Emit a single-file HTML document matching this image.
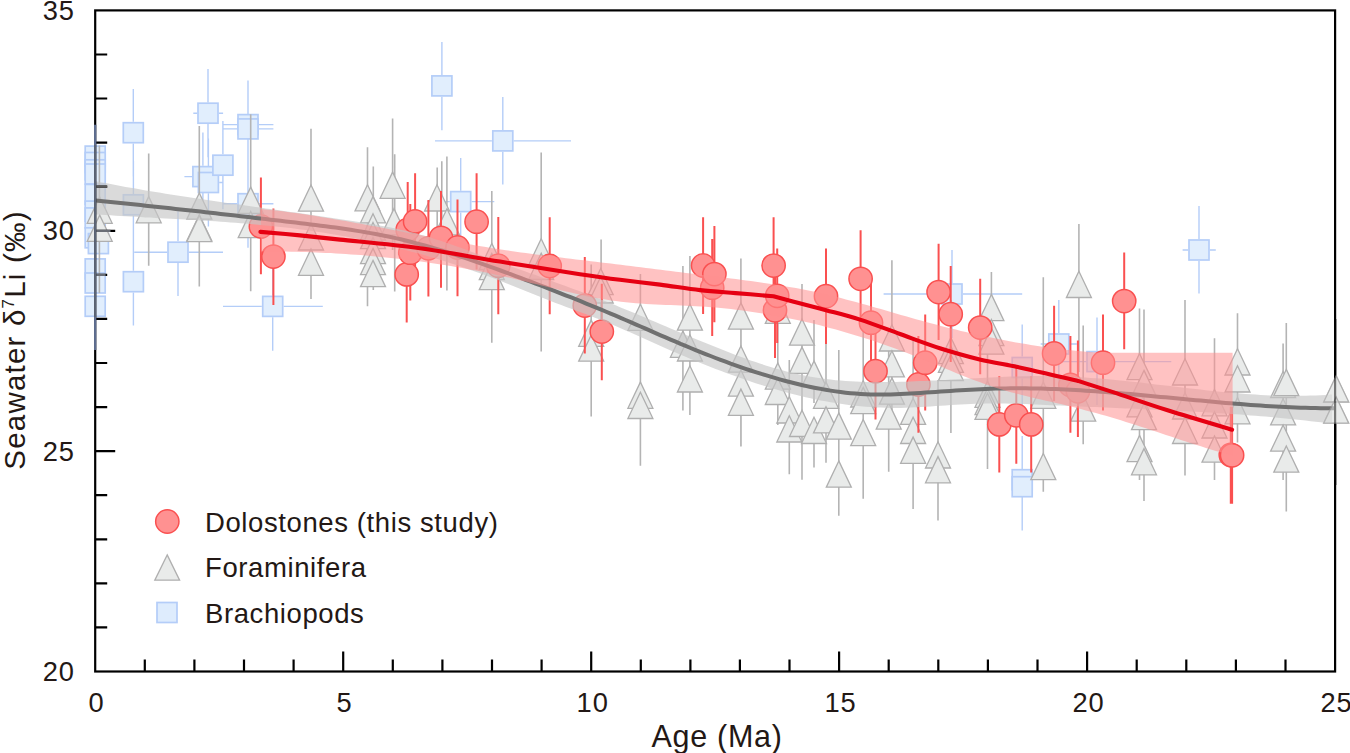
<!DOCTYPE html>
<html><head><meta charset="utf-8"><style>
html,body{margin:0;padding:0;background:#fff;}
svg{display:block;}
</style></head><body>
<svg width="1350" height="753" viewBox="0 0 1350 753">
<rect width="1350" height="753" fill="#fff"/>
<path d="M133.3 88.9V121.8M133.3 143.5V176.5M133.4 160.8V194.0M133.4 215.7V248.8M133.4 237.8V270.8M133.4 292.6V325.6M178 211.2V241.3M178 263.1V296.1M134.3 252.2H167.2M188.8 252.2H223M208 69.1V102.4M208 124.0V157.3M193.3 113.2H197.2M218.8 113.2H223.1M248 80.4V113.8M248 135.4V168.6M223 124.6H237.2M258.9 124.6H273.4M248 84.9V118.1M248 139.8V172.9M223 128.9H237.2M258.9 128.9H273.4M222.9 121.1V154.3M222.9 176.0V209.3M202.9 132.4V165.8M202.9 187.4V220.6M184.4 176.6H192.1M213.8 176.6H213M208.4 138.5V171.7M208.4 193.3V226.5M196 182.5H197.6M219.2 182.5H223.5M248 159.7V192.8M248 214.5V247.7M223 203.7H237.2M258.9 203.7H273.4M272.7 262.1V295.5M272.7 317.2V350.7M223 306.4H261.8M283.6 306.4H322.8M441.9 42.1V75.1M441.9 96.8V130.3M502.8 96.9V130.1M502.8 151.8V184.6M435 140.9H491.9M513.6 140.9H571M460.7 158V190.8M460.7 212.4V245.2M427.4 201.6H449.8M471.6 201.6H494.3M952 250.1V283.1M952 304.9V338M883.6 294H941.1M962.9 294H1022.2M1058.8 300V333.1M1058.8 354.9V388M1040.7 344H1048.0M1069.6 344H1076.8M1022.2 324.4V356.6M1022.2 378.4V411M1097 317.6V350.8M1097 372.5V405.1M1060 361.6H1086.2M1107.8 361.6H1171.3M1199 206.1V239.2M1199 260.9V293.6M1182.6 250H1188.2M1209.8 250H1215.8M1022.2 436.1V468.8M1022.2 490.6V523.6M1022.2 443.1V475.8M1022.2 497.6V530.6" stroke="#b4cdf8" stroke-width="1.4" fill="none"/>
<g fill="#e1eefd" stroke="#b4cdf8" stroke-width="1.7"><rect x="85.2" y="146.1" width="20" height="20"/><rect x="85.2" y="152.5" width="20" height="20"/><rect x="85.2" y="159.8" width="20" height="20"/><rect x="85.2" y="164.0" width="20" height="20"/><rect x="85.2" y="184.4" width="20" height="20"/><rect x="85.2" y="201.1" width="20" height="20"/><rect x="85.2" y="207.9" width="20" height="20"/><rect x="85.2" y="227.8" width="20" height="20"/><rect x="85.2" y="258.9" width="20" height="20"/><rect x="85.2" y="273.0" width="20" height="20"/><rect x="85.2" y="296.3" width="20" height="20"/><rect x="88.4" y="233.6" width="20" height="20"/><rect x="123.3" y="122.7" width="20" height="20"/><rect x="123.4" y="194.8" width="20" height="20"/><rect x="123.4" y="271.7" width="20" height="20"/><rect x="168.0" y="242.2" width="20" height="20"/><rect x="192.9" y="166.6" width="20" height="20"/><rect x="198.0" y="103.2" width="20" height="20"/><rect x="198.4" y="172.5" width="20" height="20"/><rect x="212.9" y="155.2" width="20" height="20"/><rect x="238.0" y="114.6" width="20" height="20"/><rect x="238.0" y="118.9" width="20" height="20"/><rect x="238.0" y="193.7" width="20" height="20"/><rect x="262.7" y="296.4" width="20" height="20"/><rect x="431.9" y="75.9" width="20" height="20"/><rect x="450.7" y="191.6" width="20" height="20"/><rect x="492.8" y="130.9" width="20" height="20"/><rect x="942.0" y="284.0" width="20" height="20"/><rect x="1012.2" y="357.5" width="20" height="20"/><rect x="1012.2" y="469.7" width="20" height="20"/><rect x="1012.2" y="476.7" width="20" height="20"/><rect x="1048.8" y="334.0" width="20" height="20"/><rect x="1087.0" y="351.6" width="20" height="20"/><rect x="1189.0" y="240.0" width="20" height="20"/></g>
<path d="M99.4 145.6V293M148.7 153.6V265.7M199.3 126V286.6M250.7 114.3V291.2M311 128.8V299.1M367.5 147.2V306.3M373.3 166.5V290M392.6 118.5V250M394.7 154.2V291.4M437.2 167.5V240M441.8 161.3V250M446.9 156.4V290.4M491.8 190.9V342.8M541.2 152.6V351.6M591.2 264.5V416.6M601.1 239.5V330M640.4 274.1V465.8M682.9 266V410.4M689.9 256V414.9M740.9 258.6V446.5M741 300V446.3M777.8 290V425M789.3 360V474.3M802 284.1V479.7M814 320V403M814 443V467.5M826 330V462.7M838.8 350V515.8M863.2 320V498.8M888.7 330V471.8M891.9 260.3V420M913.1 340V509M938 380V520.6M950.9 300V432.9M987.5 350V469M991.4 272V350M1043.3 277.3V491.8M1078.9 224V372M1083.2 325.5V444.2M1139.5 308.5V480M1144 309.6V500.9M1185 300V475.4M1214.5 338.2V480M1237.5 313.2V442.5M1283.1 343.5V480M1286.3 322.9V511.5M1336.2 319.1V485" stroke="#b4b4b4" stroke-width="1.6" fill="none"/>
<g fill="#e9ebea" stroke="#afafaf" stroke-width="1.3"><path d="M99.7 197.1L112.2 223.3H87.2Z"/><path d="M99.7 215.1L112.2 241.3H87.2Z"/><path d="M148.7 196.6L161.2 222.8H136.2Z"/><path d="M199.3 193.0L211.8 219.2H186.8Z"/><path d="M199.3 214.7L211.8 240.9H186.8Z"/><path d="M199.3 215.4L211.8 241.6H186.8Z"/><path d="M250.7 187.1L263.2 213.3H238.2Z"/><path d="M250.7 211.5L263.2 237.7H238.2Z"/><path d="M311 185.0L323.5 211.2H298.5Z"/><path d="M311 223.8L323.5 250.0H298.5Z"/><path d="M311 249.1L323.5 275.3H298.5Z"/><path d="M367.5 184.7L380.0 210.9H355.0Z"/><path d="M373 196.6L385.5 222.8H360.5Z"/><path d="M373 213.8L385.5 240.0H360.5Z"/><path d="M373 222.5L385.5 248.7H360.5Z"/><path d="M373 237.5L385.5 263.7H360.5Z"/><path d="M373 248.4L385.5 274.6H360.5Z"/><path d="M373 260.4L385.5 286.6H360.5Z"/><path d="M392.6 172.1L405.1 198.3H380.1Z"/><path d="M394 208.6L406.5 234.8H381.5Z"/><path d="M437 184.8L449.5 211.0H424.5Z"/><path d="M447 208.7L459.5 234.9H434.5Z"/><path d="M491.8 243.4L504.3 269.6H479.3Z"/><path d="M491.8 253.5L504.3 279.7H479.3Z"/><path d="M491.8 263.4L504.3 289.6H479.3Z"/><path d="M541.2 238.8L553.7 265.0H528.7Z"/><path d="M541.2 253.3L553.7 279.5H528.7Z"/><path d="M591.2 320.1L603.7 346.3H578.7Z"/><path d="M591.2 335.0L603.7 361.2H578.7Z"/><path d="M600.7 268.5L613.2 294.7H588.2Z"/><path d="M600.7 276.8L613.2 303.0H588.2Z"/><path d="M640.4 304.2L652.9 330.4H627.9Z"/><path d="M640.4 382.1L652.9 408.3H627.9Z"/><path d="M640.4 392.3L652.9 418.5H627.9Z"/><path d="M682.9 331.1L695.4 357.3H670.4Z"/><path d="M689.9 304.0L702.4 330.2H677.4Z"/><path d="M689.9 334.8L702.4 361.0H677.4Z"/><path d="M689.9 365.8L702.4 392.0H677.4Z"/><path d="M740.9 302.9L753.4 329.1H728.4Z"/><path d="M740.9 346.0L753.4 372.2H728.4Z"/><path d="M740.9 370.0L753.4 396.2H728.4Z"/><path d="M740.9 389.1L753.4 415.3H728.4Z"/><path d="M777.8 297.2L790.3 323.4H765.3Z"/><path d="M777.8 363.0L790.3 389.2H765.3Z"/><path d="M777.8 378.3L790.3 404.5H765.3Z"/><path d="M789.3 396.8L801.8 423.0H776.8Z"/><path d="M789.3 415.8L801.8 442.0H776.8Z"/><path d="M802 319.0L814.5 345.2H789.5Z"/><path d="M802 347.1L814.5 373.3H789.5Z"/><path d="M802 410.3L814.5 436.5H789.5Z"/><path d="M814 360.9L826.5 387.1H801.5Z"/><path d="M814 417.3L826.5 443.5H801.5Z"/><path d="M826 382.1L838.5 408.3H813.5Z"/><path d="M826 406.7L838.5 432.9H813.5Z"/><path d="M838.8 412.9L851.3 439.1H826.3Z"/><path d="M838.8 460.9L851.3 487.1H826.3Z"/><path d="M863.2 380.8L875.7 407.0H850.7Z"/><path d="M863.2 387.4L875.7 413.6H850.7Z"/><path d="M863.2 419.5L875.7 445.7H850.7Z"/><path d="M888.7 402.9L901.2 429.1H876.2Z"/><path d="M891.9 324.8L904.4 351.0H879.4Z"/><path d="M891.9 350.7L904.4 376.9H879.4Z"/><path d="M891.9 377.9L904.4 404.1H879.4Z"/><path d="M913.1 398.2L925.6 424.4H900.6Z"/><path d="M913.1 417.3L925.6 443.5H900.6Z"/><path d="M913.1 437.1L925.6 463.3H900.6Z"/><path d="M938 441.8L950.5 468.0H925.5Z"/><path d="M938 456.6L950.5 482.8H925.5Z"/><path d="M950.9 337.5L963.4 363.7H938.4Z"/><path d="M950.9 346.2L963.4 372.4H938.4Z"/><path d="M950.9 354.5L963.4 380.7H938.4Z"/><path d="M987.5 381.1L1000.0 407.3H975.0Z"/><path d="M987.5 388.5L1000.0 414.7H975.0Z"/><path d="M987.5 393.2L1000.0 419.4H975.0Z"/><path d="M991.4 294.4L1003.9 320.6H978.9Z"/><path d="M991.4 319.5L1003.9 345.7H978.9Z"/><path d="M991.4 328.0L1003.9 354.2H978.9Z"/><path d="M1043.3 382.1L1055.8 408.3H1030.8Z"/><path d="M1043.3 453.5L1055.8 479.7H1030.8Z"/><path d="M1078.9 271.3L1091.4 297.5H1066.4Z"/><path d="M1083.2 395.0L1095.7 421.2H1070.7Z"/><path d="M1139.5 353.5L1152.0 379.7H1127.0Z"/><path d="M1139.5 390.6L1152.0 416.8H1127.0Z"/><path d="M1139.5 435.4L1152.0 461.6H1127.0Z"/><path d="M1144 370.4L1156.5 396.6H1131.5Z"/><path d="M1144 403.4L1156.5 429.6H1131.5Z"/><path d="M1144 448.6L1156.5 474.8H1131.5Z"/><path d="M1185 358.8L1197.5 385.0H1172.5Z"/><path d="M1185 392.8L1197.5 419.0H1172.5Z"/><path d="M1185 417.3L1197.5 443.5H1172.5Z"/><path d="M1214.5 389.6L1227.0 415.8H1202.0Z"/><path d="M1214.5 411.8L1227.0 438.0H1202.0Z"/><path d="M1214.5 436.0L1227.0 462.2H1202.0Z"/><path d="M1237.5 348.8L1250.0 375.0H1225.0Z"/><path d="M1237.5 365.8L1250.0 392.0H1225.0Z"/><path d="M1237.5 397.6L1250.0 423.8H1225.0Z"/><path d="M1283.1 371.5L1295.6 397.7H1270.6Z"/><path d="M1283.1 398.7L1295.6 424.9H1270.6Z"/><path d="M1283.1 425.0L1295.6 451.2H1270.6Z"/><path d="M1286.3 369.4L1298.8 395.6H1273.8Z"/><path d="M1286.3 446.0L1298.8 472.2H1273.8Z"/><path d="M1336.2 375.8L1348.7 402.0H1323.7Z"/><path d="M1336.2 397.0L1348.7 423.2H1323.7Z"/></g>
<path d="M260.9 177.6V274.2M273.4 208.4V305M407.7 182V277.6M415.1 173.3V269.5M410.3 203.9V300.5M406.7 226.8V322.6M428.4 199.9V296.5M441 190.9V287.7M457.5 199.4V296.3M476.6 173.2V269.6M498.3 216.9V314.3M549.7 217.2V314.3M584.8 257.1V353.5M601.8 283.7V380.3M703.1 217.2V314M712.2 239V336.1M714.4 226.1V322.3M773.6 217.2V314M775 262V358M777.2 248.4V343M826 248.4V344M860.6 230.3V327M871 284.1V371M875.5 323V419.4M925.2 314.4V410.4M918.4 336V432.8M938.6 243.7V340M950.7 266V362M980.2 278.8V374.3M1054.1 305.7V401M1103 314.4V410.4M1124.2 252.6V349.3M1016.3 367V463.7M999.3 376V472.6M1031.2 376V472.6M1070.4 336.1V432.8M1077.9 340.4V437M1230.8 406.8V503.7M1232.1 406.8V503.7" stroke="#fa5050" stroke-width="2" fill="none"/>
<g fill="#ff9191" stroke="#fa5050" stroke-width="1.5"><circle cx="260.9" cy="226.5" r="11.65"/><circle cx="273.4" cy="256.6" r="11.65"/><circle cx="406.7" cy="274.4" r="11.65"/><circle cx="407.7" cy="229.8" r="11.65"/><circle cx="410.3" cy="252.7" r="11.65"/><circle cx="415.1" cy="221.4" r="11.65"/><circle cx="428.4" cy="248.3" r="11.65"/><circle cx="441" cy="237.8" r="11.65"/><circle cx="457.5" cy="247.5" r="11.65"/><circle cx="476.6" cy="221.7" r="11.65"/><circle cx="498.3" cy="265.7" r="11.65"/><circle cx="549.7" cy="266" r="11.65"/><circle cx="584.8" cy="305.6" r="11.65"/><circle cx="601.8" cy="331.6" r="11.65"/><circle cx="703.1" cy="265.5" r="11.65"/><circle cx="712.2" cy="287.7" r="11.65"/><circle cx="714.4" cy="274.1" r="11.65"/><circle cx="773.6" cy="265.6" r="11.65"/><circle cx="775" cy="310.3" r="11.65"/><circle cx="777.2" cy="295.8" r="11.65"/><circle cx="826" cy="296.2" r="11.65"/><circle cx="860.6" cy="278.8" r="11.65"/><circle cx="871" cy="322.7" r="11.65"/><circle cx="875.5" cy="371.2" r="11.65"/><circle cx="918.4" cy="384.5" r="11.65"/><circle cx="925.2" cy="362.7" r="11.65"/><circle cx="938.6" cy="292.1" r="11.65"/><circle cx="950.7" cy="314.2" r="11.65"/><circle cx="980.2" cy="327.6" r="11.65"/><circle cx="999.3" cy="424.4" r="11.65"/><circle cx="1016.3" cy="415.3" r="11.65"/><circle cx="1031.2" cy="424.4" r="11.65"/><circle cx="1054.1" cy="353.5" r="11.65"/><circle cx="1070.4" cy="385" r="11.65"/><circle cx="1077.9" cy="391.3" r="11.65"/><circle cx="1103" cy="362.7" r="11.65"/><circle cx="1124.2" cy="301.1" r="11.65"/><circle cx="1230.8" cy="455" r="11.65"/><circle cx="1232.1" cy="455.3" r="11.65"/></g>
<path d="M95.6 181.2 L100.6 182.2 L105.6 183.1 L110.6 184.1 L115.6 185.0 L120.6 185.9 L125.6 186.9 L130.6 187.8 L135.6 188.6 L140.6 189.5 L145.6 190.4 L150.6 191.2 L155.6 192.0 L160.6 192.8 L165.6 193.7 L170.6 194.5 L175.6 195.2 L180.6 196.0 L185.6 196.8 L190.6 197.6 L195.6 198.3 L200.6 199.1 L205.6 199.8 L210.6 200.5 L215.6 201.3 L220.6 202.0 L225.6 202.7 L230.6 203.4 L235.6 204.1 L240.6 204.8 L245.6 205.5 L250.6 206.2 L255.6 206.9 L260.6 207.6 L265.6 208.4 L270.6 209.1 L275.6 209.8 L280.6 210.5 L285.6 211.2 L290.6 211.9 L295.6 212.6 L300.6 213.3 L305.6 214.0 L310.6 214.7 L315.6 215.5 L320.6 216.2 L325.6 216.9 L330.6 217.7 L335.6 218.4 L340.6 219.2 L345.6 219.9 L350.6 220.7 L355.6 221.5 L360.6 222.3 L365.6 223.1 L370.6 223.9 L375.6 224.8 L380.6 225.7 L385.6 226.6 L390.6 227.6 L395.6 228.6 L400.6 229.7 L405.6 230.8 L410.6 232.0 L415.6 233.3 L420.6 234.7 L425.6 236.1 L430.6 237.6 L435.6 239.2 L440.6 240.8 L445.6 242.5 L450.6 244.2 L455.6 246.0 L460.6 247.8 L465.6 249.6 L470.6 251.5 L475.6 253.3 L480.6 255.2 L485.6 257.0 L490.6 258.9 L495.6 260.7 L500.6 262.5 L505.6 264.4 L510.6 266.2 L515.6 268.0 L520.6 269.8 L525.6 271.6 L530.6 273.4 L535.6 275.1 L540.6 276.9 L545.6 278.7 L550.6 280.5 L555.6 282.4 L560.6 284.2 L565.6 286.0 L570.6 287.9 L575.6 289.7 L580.6 291.6 L585.6 293.5 L590.6 295.4 L595.6 297.4 L600.6 299.3 L605.6 301.3 L610.6 303.3 L615.6 305.3 L620.6 307.4 L625.6 309.4 L630.6 311.5 L635.6 313.6 L640.6 315.7 L645.6 317.8 L650.6 319.9 L655.6 322.1 L660.6 324.2 L665.6 326.3 L670.6 328.4 L675.6 330.5 L680.6 332.7 L685.6 334.8 L690.6 336.9 L695.6 339.0 L700.6 341.0 L705.6 343.1 L710.6 345.1 L715.6 347.1 L720.6 349.1 L725.6 351.1 L730.6 353.0 L735.6 354.9 L740.6 356.8 L745.6 358.6 L750.6 360.4 L755.6 362.1 L760.6 363.7 L765.6 365.4 L770.6 366.9 L775.6 368.4 L780.6 369.8 L785.6 371.2 L790.6 372.4 L795.6 373.6 L800.6 374.7 L805.6 375.8 L810.6 376.7 L815.6 377.6 L820.6 378.3 L825.6 379.0 L830.6 379.6 L835.6 380.2 L840.6 380.6 L845.6 381.0 L850.6 381.3 L855.6 381.6 L860.6 381.8 L865.6 382.0 L870.6 382.1 L875.6 382.1 L880.6 382.1 L885.6 382.1 L890.6 382.0 L895.6 381.9 L900.6 381.8 L905.6 381.7 L910.6 381.5 L915.6 381.3 L920.6 381.1 L925.6 380.9 L930.6 380.6 L935.6 380.4 L940.6 380.1 L945.6 379.9 L950.6 379.6 L955.6 379.3 L960.6 379.0 L965.6 378.8 L970.6 378.5 L975.6 378.2 L980.6 377.9 L985.6 377.7 L990.6 377.4 L995.6 377.2 L1000.6 377.0 L1005.6 376.8 L1010.6 376.6 L1015.6 376.5 L1020.6 376.3 L1025.6 376.2 L1030.6 376.1 L1035.6 376.1 L1040.6 376.0 L1045.6 376.1 L1050.6 376.1 L1055.6 376.2 L1060.6 376.3 L1065.6 376.5 L1070.6 376.7 L1075.6 376.9 L1080.6 377.2 L1085.6 377.5 L1090.6 377.9 L1095.6 378.2 L1100.6 378.6 L1105.6 379.1 L1110.6 379.5 L1115.6 380.0 L1120.6 380.5 L1125.6 381.0 L1130.6 381.5 L1135.6 382.1 L1140.6 382.6 L1145.6 383.2 L1150.6 383.8 L1155.6 384.4 L1160.6 384.9 L1165.6 385.5 L1170.6 386.1 L1175.6 386.7 L1180.6 387.3 L1185.6 387.9 L1190.6 388.5 L1195.6 389.1 L1200.6 389.6 L1205.6 390.2 L1210.6 390.7 L1215.6 391.2 L1220.6 391.7 L1225.6 392.2 L1230.6 392.7 L1235.6 393.1 L1240.6 393.5 L1245.6 393.9 L1250.6 394.3 L1255.6 394.6 L1260.6 394.9 L1265.6 395.2 L1270.6 395.4 L1275.6 395.6 L1280.6 395.7 L1285.6 395.8 L1290.6 395.9 L1295.6 395.9 L1300.6 395.8 L1305.6 395.8 L1310.6 395.6 L1315.6 395.4 L1320.6 395.2 L1325.6 394.9 L1330.6 394.5 L1332.0 394.4 L1332.0 423.8 L1330.6 423.6 L1325.6 423.0 L1320.6 422.3 L1315.6 421.7 L1310.6 421.2 L1305.6 420.6 L1300.6 420.0 L1295.6 419.5 L1290.6 419.0 L1285.6 418.5 L1280.6 418.0 L1275.6 417.5 L1270.6 417.1 L1265.6 416.6 L1260.6 416.2 L1255.6 415.8 L1250.6 415.4 L1245.6 415.0 L1240.6 414.6 L1235.6 414.3 L1230.6 413.9 L1225.6 413.6 L1220.6 413.2 L1215.6 412.9 L1210.6 412.6 L1205.6 412.3 L1200.6 412.0 L1195.6 411.7 L1190.6 411.5 L1185.6 411.2 L1180.6 410.9 L1175.6 410.7 L1170.6 410.4 L1165.6 410.2 L1160.6 409.9 L1155.6 409.7 L1150.6 409.5 L1145.6 409.2 L1140.6 409.0 L1135.6 408.8 L1130.6 408.6 L1125.6 408.4 L1120.6 408.2 L1115.6 407.9 L1110.6 407.7 L1105.6 407.5 L1100.6 407.3 L1095.6 407.1 L1090.6 406.9 L1085.6 406.7 L1080.6 406.5 L1075.6 406.3 L1070.6 406.1 L1065.6 405.8 L1060.6 405.6 L1055.6 405.4 L1050.6 405.2 L1045.6 404.9 L1040.6 404.7 L1035.6 404.5 L1030.6 404.3 L1025.6 404.1 L1020.6 404.0 L1015.6 403.8 L1010.6 403.7 L1005.6 403.6 L1000.6 403.6 L995.6 403.5 L990.6 403.5 L985.6 403.6 L980.6 403.7 L975.6 403.8 L970.6 404.0 L965.6 404.2 L960.6 404.5 L955.6 404.8 L950.6 405.1 L945.6 405.5 L940.6 405.8 L935.6 406.1 L930.6 406.5 L925.6 406.8 L920.6 407.1 L915.6 407.3 L910.6 407.6 L905.6 407.7 L900.6 407.9 L895.6 407.9 L890.6 407.9 L885.6 407.8 L880.6 407.6 L875.6 407.4 L870.6 407.1 L865.6 406.7 L860.6 406.3 L855.6 405.7 L850.6 405.2 L845.6 404.5 L840.6 403.8 L835.6 403.0 L830.6 402.2 L825.6 401.3 L820.6 400.4 L815.6 399.4 L810.6 398.3 L805.6 397.2 L800.6 396.0 L795.6 394.8 L790.6 393.5 L785.6 392.2 L780.6 390.8 L775.6 389.3 L770.6 387.9 L765.6 386.3 L760.6 384.8 L755.6 383.2 L750.6 381.5 L745.6 379.8 L740.6 378.1 L735.6 376.3 L730.6 374.5 L725.6 372.7 L720.6 370.8 L715.6 368.9 L710.6 366.9 L705.6 365.0 L700.6 363.0 L695.6 360.9 L690.6 358.9 L685.6 356.8 L680.6 354.7 L675.6 352.5 L670.6 350.4 L665.6 348.2 L660.6 346.0 L655.6 343.8 L650.6 341.5 L645.6 339.3 L640.6 337.0 L635.6 334.8 L630.6 332.6 L625.6 330.4 L620.6 328.2 L615.6 326.0 L610.6 323.9 L605.6 321.8 L600.6 319.8 L595.6 317.9 L590.6 315.9 L585.6 314.1 L580.6 312.2 L575.6 310.4 L570.6 308.5 L565.6 306.7 L560.6 304.8 L555.6 302.9 L550.6 301.0 L545.6 299.0 L540.6 297.0 L535.6 295.0 L530.6 293.0 L525.6 291.0 L520.6 289.0 L515.6 287.0 L510.6 285.0 L505.6 283.0 L500.6 281.1 L495.6 279.1 L490.6 277.2 L485.6 275.3 L480.6 273.5 L475.6 271.7 L470.6 269.9 L465.6 268.2 L460.6 266.5 L455.6 264.8 L450.6 263.2 L445.6 261.6 L440.6 260.0 L435.6 258.5 L430.6 257.0 L425.6 255.5 L420.6 254.1 L415.6 252.7 L410.6 251.4 L405.6 250.0 L400.6 248.7 L395.6 247.5 L390.6 246.3 L385.6 245.1 L380.6 243.9 L375.6 242.8 L370.6 241.7 L365.6 240.6 L360.6 239.5 L355.6 238.5 L350.6 237.6 L345.6 236.6 L340.6 235.7 L335.6 234.8 L330.6 234.0 L325.6 233.1 L320.6 232.3 L315.6 231.6 L310.6 230.8 L305.6 230.1 L300.6 229.4 L295.6 228.8 L290.6 228.1 L285.6 227.5 L280.6 227.0 L275.6 226.4 L270.6 225.9 L265.6 225.4 L260.6 224.9 L255.6 224.4 L250.6 224.0 L245.6 223.6 L240.6 223.2 L235.6 222.8 L230.6 222.4 L225.6 222.0 L220.6 221.7 L215.6 221.3 L210.6 221.0 L205.6 220.7 L200.6 220.4 L195.6 220.1 L190.6 219.8 L185.6 219.5 L180.6 219.2 L175.6 219.0 L170.6 218.7 L165.6 218.4 L160.6 218.2 L155.6 217.9 L150.6 217.6 L145.6 217.4 L140.6 217.1 L135.6 216.8 L130.6 216.5 L125.6 216.2 L120.6 216.0 L115.6 215.7 L110.6 215.3 L105.6 215.0 L100.6 214.7 L95.6 214.4 Z" fill="rgb(198,198,198)" fill-opacity="0.65"/>
<path d="M95.6 200.6 L100.6 201.1 L105.6 201.6 L110.6 202.1 L115.6 202.6 L120.6 203.1 L125.6 203.6 L130.6 204.1 L135.6 204.6 L140.6 205.1 L145.6 205.7 L150.6 206.2 L155.6 206.7 L160.6 207.3 L165.6 207.8 L170.6 208.3 L175.6 208.9 L180.6 209.4 L185.6 210.0 L190.6 210.5 L195.6 211.1 L200.6 211.6 L205.6 212.2 L210.6 212.8 L215.6 213.3 L220.6 213.9 L225.6 214.5 L230.6 215.0 L235.6 215.6 L240.6 216.2 L245.6 216.7 L250.6 217.3 L255.6 217.9 L260.6 218.5 L265.6 219.1 L270.6 219.7 L275.6 220.3 L280.6 220.8 L285.6 221.4 L290.6 222.0 L295.6 222.6 L300.6 223.2 L305.6 223.8 L310.6 224.4 L315.6 225.0 L320.6 225.7 L325.6 226.3 L330.6 227.0 L335.6 227.6 L340.6 228.3 L345.6 229.0 L350.6 229.8 L355.6 230.6 L360.6 231.4 L365.6 232.2 L370.6 233.1 L375.6 234.0 L380.6 235.0 L385.6 236.0 L390.6 237.0 L395.6 238.1 L400.6 239.3 L405.6 240.5 L410.6 241.8 L415.6 243.1 L420.6 244.4 L425.6 245.8 L430.6 247.2 L435.6 248.7 L440.6 250.2 L445.6 251.7 L450.6 253.3 L455.6 254.9 L460.6 256.6 L465.6 258.2 L470.6 259.9 L475.6 261.6 L480.6 263.4 L485.6 265.1 L490.6 266.9 L495.6 268.7 L500.6 270.5 L505.6 272.4 L510.6 274.2 L515.6 276.1 L520.6 277.9 L525.6 279.8 L530.6 281.7 L535.6 283.6 L540.6 285.5 L545.6 287.4 L550.6 289.4 L555.6 291.3 L560.6 293.3 L565.6 295.3 L570.6 297.2 L575.6 299.2 L580.6 301.2 L585.6 303.3 L590.6 305.3 L595.6 307.4 L600.6 309.4 L605.6 311.5 L610.6 313.6 L615.6 315.7 L620.6 317.9 L625.6 320.0 L630.6 322.2 L635.6 324.4 L640.6 326.5 L645.6 328.7 L650.6 330.9 L655.6 333.1 L660.6 335.3 L665.6 337.4 L670.6 339.6 L675.6 341.7 L680.6 343.9 L685.6 345.9 L690.6 348.0 L695.6 350.1 L700.6 352.1 L705.6 354.1 L710.6 356.0 L715.6 358.0 L720.6 359.9 L725.6 361.7 L730.6 363.6 L735.6 365.3 L740.6 367.1 L745.6 368.8 L750.6 370.5 L755.6 372.1 L760.6 373.7 L765.6 375.2 L770.6 376.7 L775.6 378.2 L780.6 379.6 L785.6 381.0 L790.6 382.3 L795.6 383.5 L800.6 384.7 L805.6 385.9 L810.6 387.0 L815.6 388.0 L820.6 388.9 L825.6 389.8 L830.6 390.6 L835.6 391.4 L840.6 392.1 L845.6 392.7 L850.6 393.2 L855.6 393.6 L860.6 393.9 L865.6 394.2 L870.6 394.4 L875.6 394.5 L880.6 394.5 L885.6 394.5 L890.6 394.4 L895.6 394.2 L900.6 394.0 L905.6 393.8 L910.6 393.5 L915.6 393.2 L920.6 392.9 L925.6 392.6 L930.6 392.3 L935.6 391.9 L940.6 391.6 L945.6 391.2 L950.6 390.9 L955.6 390.6 L960.6 390.2 L965.6 390.0 L970.6 389.7 L975.6 389.4 L980.6 389.2 L985.6 389.0 L990.6 388.8 L995.6 388.6 L1000.6 388.5 L1005.6 388.4 L1010.6 388.3 L1015.6 388.3 L1020.6 388.3 L1025.6 388.3 L1030.6 388.4 L1035.6 388.5 L1040.6 388.6 L1045.6 388.7 L1050.6 388.9 L1055.6 389.1 L1060.6 389.3 L1065.6 389.5 L1070.6 389.8 L1075.6 390.1 L1080.6 390.3 L1085.6 390.7 L1090.6 391.0 L1095.6 391.3 L1100.6 391.7 L1105.6 392.1 L1110.6 392.5 L1115.6 392.9 L1120.6 393.3 L1125.6 393.7 L1130.6 394.1 L1135.6 394.6 L1140.6 395.0 L1145.6 395.5 L1150.6 395.9 L1155.6 396.4 L1160.6 396.9 L1165.6 397.3 L1170.6 397.8 L1175.6 398.3 L1180.6 398.8 L1185.6 399.2 L1190.6 399.7 L1195.6 400.2 L1200.6 400.6 L1205.6 401.1 L1210.6 401.6 L1215.6 402.0 L1220.6 402.5 L1225.6 402.9 L1230.6 403.3 L1235.6 403.7 L1240.6 404.1 L1245.6 404.5 L1250.6 404.9 L1255.6 405.2 L1260.6 405.6 L1265.6 405.9 L1270.6 406.2 L1275.6 406.5 L1280.6 406.8 L1285.6 407.0 L1290.6 407.3 L1295.6 407.5 L1300.6 407.7 L1305.6 407.8 L1310.6 408.0 L1315.6 408.1 L1320.6 408.2 L1325.6 408.2 L1330.6 408.2 L1334.5 408.2" fill="none" stroke="#707070" stroke-width="4" stroke-linejoin="round"/>
<path d="M260.9 208.9 L265.9 209.4 L270.9 209.9 L275.9 210.5 L280.9 211.1 L285.9 211.8 L290.9 212.4 L295.9 213.1 L300.9 213.8 L305.9 214.5 L310.9 215.3 L315.9 216.1 L320.9 216.9 L325.9 217.7 L330.9 218.5 L335.9 219.4 L340.9 220.2 L345.9 221.1 L350.9 222.0 L355.9 222.9 L360.9 223.8 L365.9 224.8 L370.9 225.7 L375.9 226.6 L380.9 227.6 L385.9 228.5 L390.9 229.5 L395.9 230.5 L400.9 231.4 L405.9 232.4 L410.9 233.4 L415.9 234.3 L420.9 235.3 L425.9 236.2 L430.9 237.2 L435.9 238.1 L440.9 239.1 L445.9 240.0 L450.9 240.9 L455.9 241.9 L460.9 242.8 L465.9 243.7 L470.9 244.5 L475.9 245.4 L480.9 246.3 L485.9 247.1 L490.9 247.9 L495.9 248.7 L500.9 249.5 L505.9 250.2 L510.9 251.0 L515.9 251.7 L520.9 252.4 L525.9 253.1 L530.9 253.8 L535.9 254.4 L540.9 255.1 L545.9 255.7 L550.9 256.3 L555.9 256.9 L560.9 257.6 L565.9 258.2 L570.9 258.8 L575.9 259.4 L580.9 260.0 L585.9 260.6 L590.9 261.2 L595.9 261.8 L600.9 262.4 L605.9 263.0 L610.9 263.6 L615.9 264.2 L620.9 264.8 L625.9 265.4 L630.9 266.0 L635.9 266.7 L640.9 267.3 L645.9 267.9 L650.9 268.5 L655.9 269.2 L660.9 269.8 L665.9 270.4 L670.9 271.0 L675.9 271.7 L680.9 272.3 L685.9 272.9 L690.9 273.5 L695.9 274.1 L700.9 274.8 L705.9 275.4 L710.9 276.0 L715.9 276.6 L720.9 277.2 L725.9 277.8 L730.9 278.4 L735.9 279.1 L740.9 279.7 L745.9 280.4 L750.9 281.1 L755.9 281.8 L760.9 282.5 L765.9 283.2 L770.9 283.9 L775.9 284.7 L780.9 285.5 L785.9 286.4 L790.9 287.2 L795.9 288.1 L800.9 289.1 L805.9 290.1 L810.9 291.1 L815.9 292.1 L820.9 293.2 L825.9 294.4 L830.9 295.6 L835.9 296.8 L840.9 298.1 L845.9 299.4 L850.9 300.7 L855.9 302.1 L860.9 303.4 L865.9 304.8 L870.9 306.2 L875.9 307.7 L880.9 309.1 L885.9 310.6 L890.9 312.0 L895.9 313.4 L900.9 314.9 L905.9 316.3 L910.9 317.7 L915.9 319.2 L920.9 320.5 L925.9 321.9 L930.9 323.3 L935.9 324.6 L940.9 325.9 L945.9 327.2 L950.9 328.4 L955.9 329.6 L960.9 330.9 L965.9 332.0 L970.9 333.2 L975.9 334.3 L980.9 335.4 L985.9 336.5 L990.9 337.6 L995.9 338.6 L1000.9 339.6 L1005.9 340.5 L1010.9 341.5 L1015.9 342.4 L1020.9 343.3 L1025.9 344.1 L1030.9 344.9 L1035.9 345.7 L1040.9 346.5 L1045.9 347.2 L1050.9 347.9 L1055.9 348.5 L1060.9 349.1 L1065.9 349.7 L1070.9 350.3 L1075.9 350.8 L1080.9 351.3 L1085.9 351.7 L1090.9 352.1 L1095.9 352.5 L1100.0 352.8 L1232.6 352.8 L1232.6 455.5 L1230.9 455.1 L1225.9 453.7 L1220.9 452.3 L1215.9 450.9 L1210.9 449.4 L1205.9 447.9 L1200.9 446.3 L1195.9 444.8 L1190.9 443.2 L1185.9 441.5 L1180.9 439.9 L1175.9 438.3 L1170.9 436.6 L1165.9 434.9 L1160.9 433.3 L1155.9 431.6 L1150.9 430.0 L1145.9 428.3 L1140.9 426.7 L1135.9 425.1 L1130.9 423.4 L1125.9 421.9 L1120.9 420.3 L1115.9 418.8 L1110.9 417.3 L1105.9 415.8 L1100.9 414.4 L1095.9 413.0 L1090.9 411.7 L1085.9 410.4 L1080.9 409.1 L1075.9 407.8 L1070.9 406.5 L1065.9 405.3 L1060.9 404.1 L1055.9 403.0 L1050.9 401.8 L1045.9 400.7 L1040.9 399.5 L1035.9 398.4 L1030.9 397.2 L1025.9 396.0 L1020.9 394.8 L1015.9 393.5 L1010.9 392.2 L1005.9 390.8 L1000.9 389.3 L995.9 387.8 L990.9 386.1 L985.9 384.4 L980.9 382.6 L975.9 380.8 L970.9 378.9 L965.9 376.9 L960.9 374.9 L955.9 372.9 L950.9 370.8 L945.9 368.7 L940.9 366.6 L935.9 364.6 L930.9 362.5 L925.9 360.4 L920.9 358.4 L915.9 356.4 L910.9 354.5 L905.9 352.5 L900.9 350.7 L895.9 348.8 L890.9 347.0 L885.9 345.2 L880.9 343.5 L875.9 341.8 L870.9 340.1 L865.9 338.5 L860.9 336.9 L855.9 335.4 L850.9 333.9 L845.9 332.4 L840.9 331.0 L835.9 329.6 L830.9 328.2 L825.9 326.9 L820.9 325.6 L815.9 324.3 L810.9 323.1 L805.9 322.0 L800.9 320.8 L795.9 319.7 L790.9 318.7 L785.9 317.7 L780.9 316.7 L775.9 315.8 L770.9 314.9 L765.9 314.0 L760.9 313.2 L755.9 312.4 L750.9 311.7 L745.9 311.0 L740.9 310.3 L735.9 309.7 L730.9 309.1 L725.9 308.6 L720.9 308.1 L715.9 307.6 L710.9 307.2 L705.9 306.8 L700.9 306.5 L695.9 306.2 L690.9 305.9 L685.9 305.7 L680.9 305.5 L675.9 305.3 L670.9 305.1 L665.9 304.9 L660.9 304.7 L655.9 304.5 L650.9 304.2 L645.9 303.9 L640.9 303.6 L635.9 303.2 L630.9 302.8 L625.9 302.3 L620.9 301.7 L615.9 301.1 L610.9 300.4 L605.9 299.6 L600.9 298.8 L595.9 297.9 L590.9 296.9 L585.9 295.9 L580.9 294.8 L575.9 293.7 L570.9 292.6 L565.9 291.4 L560.9 290.2 L555.9 289.0 L550.9 287.8 L545.9 286.6 L540.9 285.3 L535.9 284.1 L530.9 282.9 L525.9 281.6 L520.9 280.4 L515.9 279.2 L510.9 278.0 L505.9 276.9 L500.9 275.8 L495.9 274.7 L490.9 273.6 L485.9 272.6 L480.9 271.6 L475.9 270.6 L470.9 269.7 L465.9 268.7 L460.9 267.8 L455.9 267.0 L450.9 266.1 L445.9 265.3 L440.9 264.5 L435.9 263.7 L430.9 263.0 L425.9 262.3 L420.9 261.6 L415.9 260.9 L410.9 260.2 L405.9 259.6 L400.9 259.0 L395.9 258.5 L390.9 257.9 L385.9 257.4 L380.9 256.9 L375.9 256.4 L370.9 256.0 L365.9 255.5 L360.9 255.1 L355.9 254.7 L350.9 254.4 L345.9 254.0 L340.9 253.7 L335.9 253.4 L330.9 253.1 L325.9 252.9 L320.9 252.7 L315.9 252.5 L310.9 252.3 L305.9 252.1 L300.9 251.9 L295.9 251.8 L290.9 251.7 L285.9 251.6 L280.9 251.6 L275.9 251.5 L270.9 251.5 L265.9 251.5 L260.9 251.5 Z" fill="rgb(255,144,144)" fill-opacity="0.55"/>
<path d="M260.4 231.9 C267.0 232.5 286.7 234.1 300.0 235.4 C313.3 236.7 320.0 237.5 340.0 239.6 C360.0 241.7 393.3 244.5 420.0 248.2 C446.7 251.9 473.3 257.3 500.0 261.6 C526.7 265.9 560.0 271.2 580.0 274.2 C600.0 277.2 606.7 278.1 620.0 279.8 C633.3 281.5 646.7 282.9 660.0 284.6 C673.3 286.3 687.4 288.7 700.0 290.1 C712.6 291.5 723.4 292.1 735.6 293.1 C747.9 294.1 767.2 295.8 773.5 296.3 L773.5 296.3 C777.0 297.2 786.0 299.7 794.8 302.0 C803.5 304.3 815.1 307.3 826.0 310.2 C836.9 313.1 847.7 315.6 860.0 319.6 C872.3 323.6 886.7 329.2 900.0 334.0 C913.3 338.8 926.5 344.0 939.8 348.2 C953.1 352.4 966.4 356.2 979.7 359.4 C993.0 362.6 1006.1 364.5 1019.5 367.4 C1032.9 370.3 1050.2 374.6 1060.0 376.8 C1069.8 379.1 1075.0 380.2 1078.0 380.9 L1078.0 380.9 C1084.0 382.8 1098.9 387.5 1113.8 392.4 C1128.7 397.3 1147.9 404.1 1167.6 410.3 C1187.3 416.5 1221.3 426.5 1232.1 429.7" fill="none" stroke="#e60012" stroke-width="4.1" stroke-linejoin="round" stroke-linecap="round"/>
<rect x="95.2" y="10.4" width="1239.9" height="661.1" fill="none" stroke="#000" stroke-width="2.2"/>
<path d="M95.2 627.4h12M95.2 583.4h12M95.2 539.3h12M95.2 495.2h12M95.2 451.1h20M95.2 407.1h12M95.2 363.0h12M95.2 318.9h12M95.2 274.8h12M95.2 230.8h20M95.2 186.7h12M95.2 142.6h12M95.2 98.5h12M95.2 54.5h12M144.8 671.5v-12M194.4 671.5v-12M244.0 671.5v-12M293.6 671.5v-12M343.2 671.5v-20M392.8 671.5v-12M442.4 671.5v-12M492.0 671.5v-12M541.6 671.5v-12M591.2 671.5v-20M640.8 671.5v-12M690.4 671.5v-12M739.9 671.5v-12M789.5 671.5v-12M839.1 671.5v-20M888.7 671.5v-12M938.3 671.5v-12M987.9 671.5v-12M1037.5 671.5v-12M1087.1 671.5v-20M1136.7 671.5v-12M1186.3 671.5v-12M1235.9 671.5v-12M1285.5 671.5v-12" stroke="#000" stroke-width="2.2" fill="none"/>
<g opacity="0.5">
<path d="M1336.2 375.8L1348.7 402.0H1323.7ZM1336.2 397.0L1348.7 423.2H1323.7Z" fill="#e9ebea" stroke="#afafaf" stroke-width="1.3"/>
</g>
<path d="M95.2 124.7V145M95.2 317V350" stroke="#5f6e91" stroke-width="2.3"/>
<path d="M95.2 145V317" stroke="#5d6677" stroke-width="2.3"/>
<path d="M96.3 186.7H107.2" stroke="#5a5a5a" stroke-width="2.2"/>
<path d="M96.3 230.8H110.5M96.3 274.8H105.6" stroke="#6a6e76" stroke-width="2.2"/>
<circle cx="167.3" cy="521.5" r="11.65" fill="#ff9191" stroke="#fa5050" stroke-width="1.5"/>
<path d="M167.2 554.9L179.6 580.2H154.8Z" fill="#e9ebea" stroke="#afafaf" stroke-width="1.3"/>
<rect x="157" y="602.5" width="20" height="20" fill="rgb(222,236,253)" stroke="#b4cdf8" stroke-width="1.7"/>
<g font-family="'Liberation Sans', sans-serif" font-size="27.5" letter-spacing="0.6" fill="#231815">
<text x="205" y="531.7">Dolostones (this study)</text>
<text x="205" y="577.3">Foraminifera</text>
<text x="205" y="622.7">Brachiopods</text>
</g>
<g font-family="'Liberation Sans', sans-serif" font-size="27.3" letter-spacing="1" fill="#231815">
<text x="75" y="680.9" text-anchor="end">20</text>
<text x="75" y="460.5" text-anchor="end">25</text>
<text x="75" y="240.2" text-anchor="end">30</text>
<text x="75" y="19.8" text-anchor="end">35</text>
<text x="96.7" y="711.5" text-anchor="middle">0</text>
<text x="344.7" y="711.5" text-anchor="middle">5</text>
<text x="592.7" y="711.5" text-anchor="middle">10</text>
<text x="840.6" y="711.5" text-anchor="middle">15</text>
<text x="1088.6" y="711.5" text-anchor="middle">20</text>
<text x="1336.6" y="711.5" text-anchor="middle">25</text>
</g>
<text font-family="'Liberation Sans', sans-serif" font-size="30.5" letter-spacing="0.7" fill="#231815" x="717" y="746.7" text-anchor="middle">Age (Ma)</text>
<text font-family="'Liberation Sans', sans-serif" font-size="29.5" letter-spacing="1.2" fill="#231815" transform="translate(25.3,340) rotate(-90)" text-anchor="middle">Seawater δ<tspan font-size="17" dy="-11">7</tspan><tspan dy="11">Li (‰)</tspan></text>
</svg></body></html>
